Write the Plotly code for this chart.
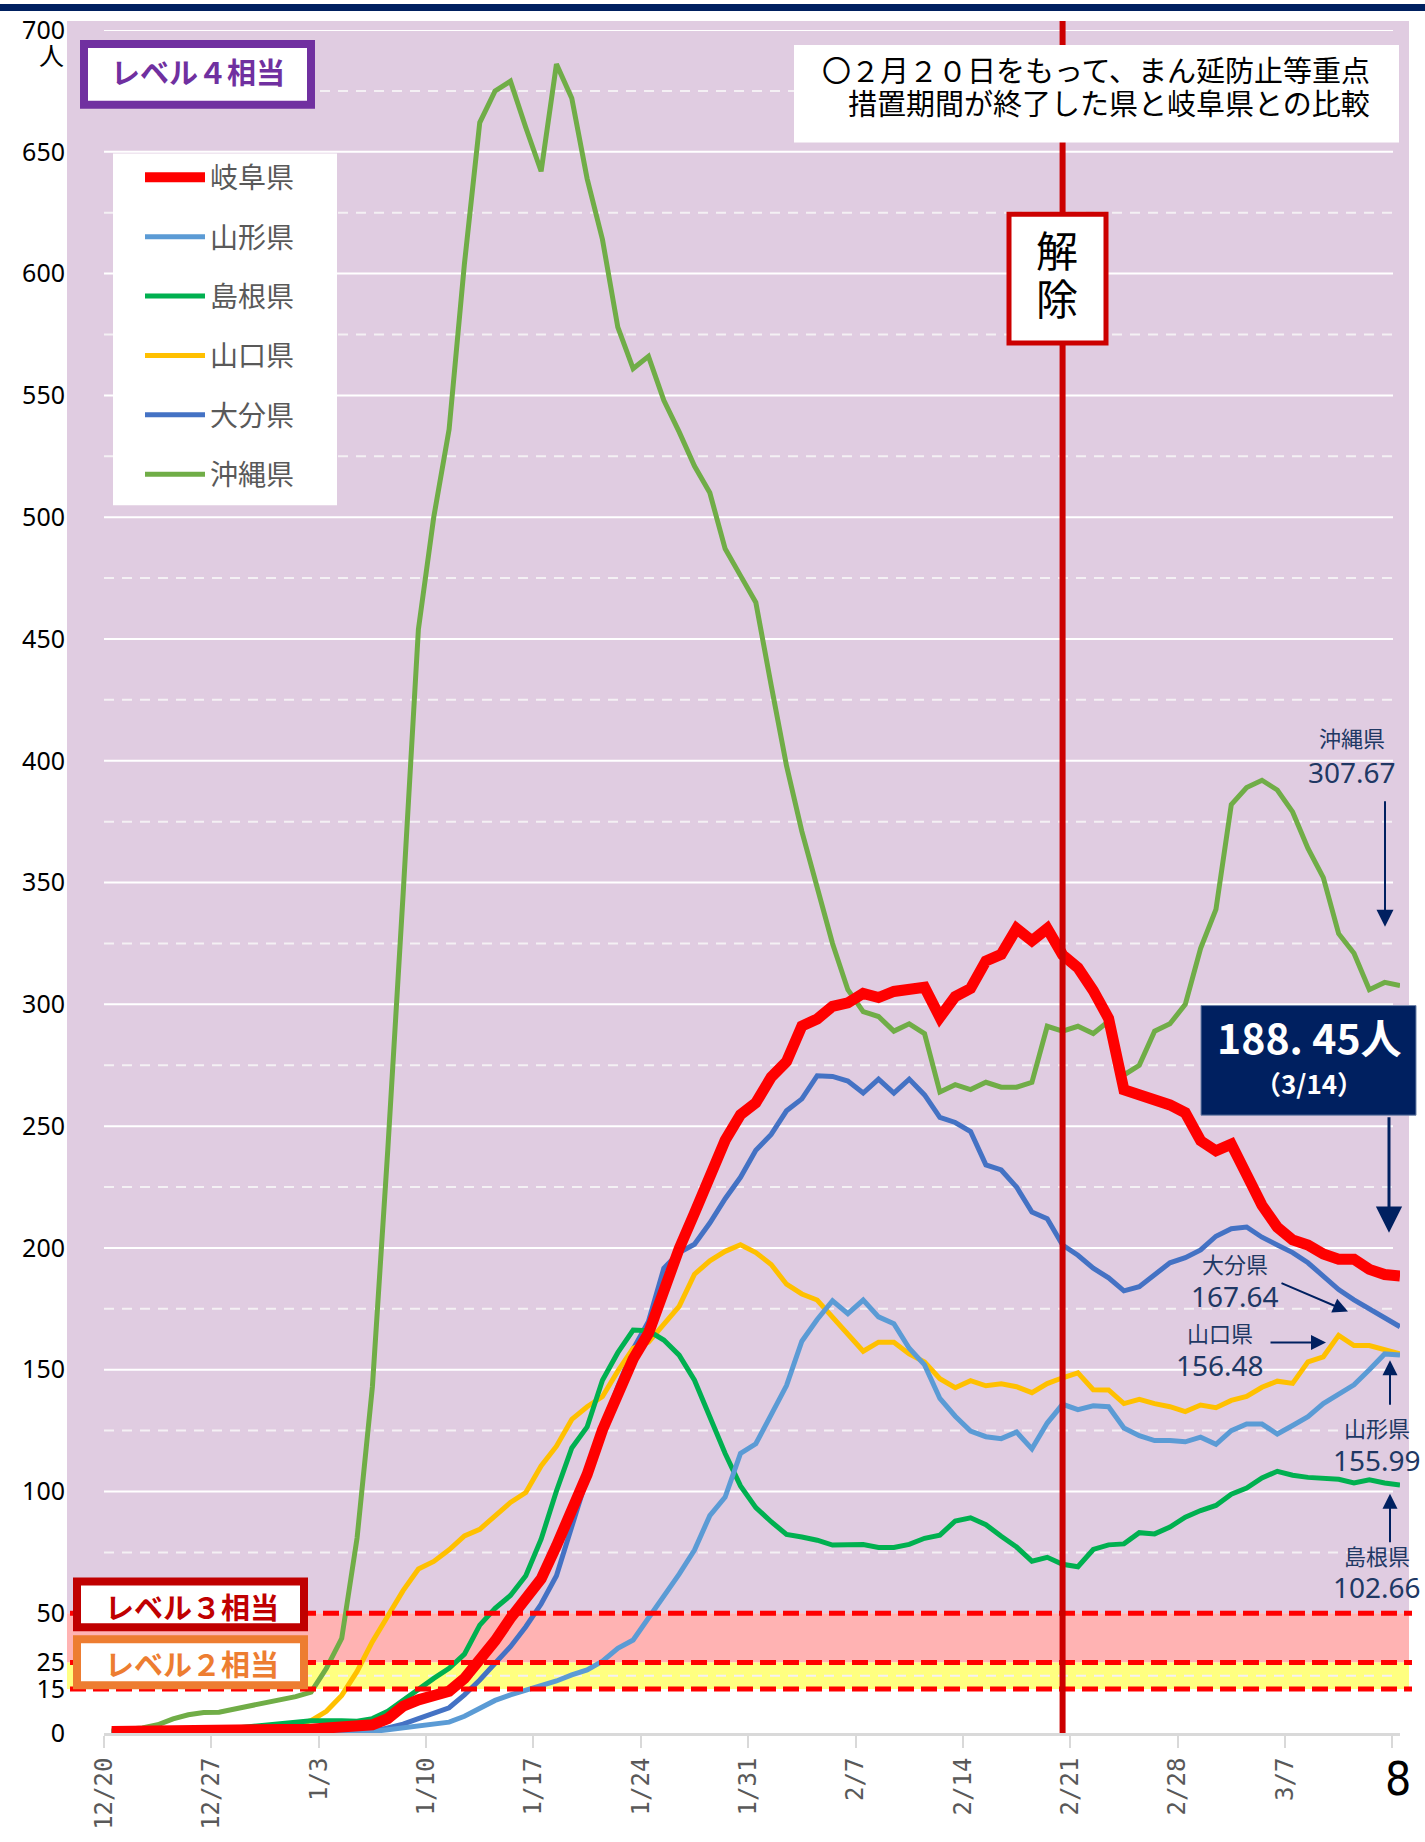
import numpy as np
import pandas as pd
import plotly.graph_objects as go

# ---------------- data ----------------
DATES = pd.date_range("2021-12-20", "2022-03-14", freq="D")

GIFU = [0.5,0.5,0.5,0.6,0.6,0.6,0.7,0.7,0.8,0.8,
        0.9,1.0,1.1,1.3,1.7,2.0,2.3,2.8,4.9,9.1,
        11.3,12.4,14.2,19.0,26.2,36.0,47.5,56.6,64.1,77.7,
        91.4,107.0,125.3,140.6,154.4,164.9,182.7,199.7,214.3,229.6,
        244.2,254.7,259.6,270.1,276.5,291.1,294.0,299.2,300.6,304.5,
        302.8,305.3,305.7,307.0,294.7,303.2,306.5,317.8,320.5,331.1,
        326.1,331.1,320.3,315.0,305.6,294.2,264.9,262.8,261.4,258.7,
        255.5,244.0,239.9,242.6,230.1,217.5,208.5,203.3,201.2,197.5,
        195.4,195.4,191.2,189.1,188.45]
YAMAGATA = [0.2,0.2,0.2,0.2,0.2,0.2,0.2,0.2,0.2,0.2,
            0.2,0.3,0.3,0.3,0.3,0.3,0.3,0.5,1.1,1.7,
            2.3,2.8,3.7,5.7,8.6,11.1,13.0,14.6,16.2,18.0,
            20.3,22.2,25.7,32.2,36.4,47.4,57.3,66.1,76.0,90.1,
            97.7,115.6,119.6,131.4,143.5,161.7,170.6,178.3,173.0,178.6,
            171.7,168.9,158.8,152.0,138.2,130.9,124.8,122.5,121.7,124.4,
            117.5,128.1,135.8,133.6,135.2,134.8,126.1,122.9,120.9,120.9,
            120.4,122.3,119.4,125.0,127.7,127.7,123.6,127.1,130.7,136.1,
            139.7,143.8,150.0,156.5,155.99]
SHIMANE = [0.5,0.5,0.5,0.5,0.5,0.5,0.5,1.1,1.7,2.3,
           2.8,3.3,3.7,4.2,4.3,4.2,4.0,4.9,7.4,11.3,
           15.0,19.0,22.8,29.2,44.0,52.0,57.3,65.4,80.4,100.2,
           117.9,126.5,145.7,157.0,166.3,166.0,162.2,156.0,145.7,130.1,
           115.6,102.3,93.4,87.6,82.4,81.3,80.0,78.0,77.9,78.2,
           77.0,77.0,78.3,80.8,82.1,87.9,89.2,86.4,81.6,77.2,
           71.4,73.0,70.1,69.1,76.2,78.1,78.5,83.1,82.6,85.4,
           89.5,92.2,94.3,98.9,101.4,105.6,108.3,106.7,105.8,105.6,
           105.0,103.5,104.8,103.5,102.66]
YAMAGUCHI = [0.5,0.5,0.6,0.6,0.7,0.8,0.9,1.1,1.5,1.6,
             1.7,2.2,2.8,4.2,7.4,12.8,21.6,35.6,49.1,59.3,
             68.2,71.3,76.1,81.8,84.5,90.3,95.5,99.6,110.5,118.6,
             129.6,134.8,139.0,149.4,158.8,161.3,168.5,176.0,189.2,194.7,
             198.6,201.3,198.1,193.2,185.1,181.1,178.6,171.7,165.2,157.6,
             161.3,161.3,156.5,153.2,146.3,142.6,145.5,143.4,144.2,143.0,
             140.6,144.3,146.7,148.7,141.8,141.7,136.1,137.8,136.1,134.8,
             132.8,135.5,134.4,137.4,139.0,142.8,145.3,144.4,153.2,155.3,
             164.1,159.9,159.9,158.4,156.48]
OITA = [0.1,0.1,0.1,0.1,0.1,0.1,0.1,0.1,0.1,0.1,
        0.1,0.1,0.1,0.1,0.2,0.2,0.3,0.5,1.7,3.0,
        4.9,6.7,8.6,13.0,18.4,24.7,33.0,43.2,53.8,65.4,
        85.9,106.0,126.0,143.0,158.5,169.8,191.6,198.1,201.5,210.2,
        220.2,229.0,240.1,246.6,256.3,261.2,270.7,270.4,268.5,263.6,
        269.3,263.6,269.3,262.8,253.6,251.5,247.8,234.1,232.0,225.0,
        214.7,212.0,201.2,197.0,191.7,187.7,182.4,184.1,188.7,193.9,
        196.0,199.2,204.8,207.9,208.6,204.4,201.2,198.1,193.9,188.3,
        182.9,178.7,175.2,171.4,167.64]
OKINAWA = [0.9,1.1,1.7,2.8,4.8,6.2,7.0,7.1,8.1,9.3,
           10.4,11.1,12.4,13.9,22.8,37.3,80.9,143.0,240.0,345.0,
           454.0,500.0,536.0,604.0,662.0,675.0,679.0,660.0,642.0,686.0,
           672.0,639.0,614.0,578.0,561.0,566.0,548.0,535.0,521.0,510.0,
           487.0,476.0,465.0,431.0,398.0,371.0,347.0,325.0,306.0,297.0,
           295.0,289.0,292.0,288.0,264.0,267.0,265.0,268.0,266.0,266.0,
           268.0,291.0,289.0,291.0,288.0,293.0,271.0,275.0,289.0,292.0,
           300.0,323.0,339.0,382.0,389.0,392.0,388.0,379.0,364.0,352.0,
           329.0,321.0,306.0,309.0,307.67]

SERIES = [  # name, values, colour, width, legend rank
    ("沖縄県", OKINAWA, "#70AD47", 5, 6),
    ("大分県", OITA, "#4472C4", 5, 5),
    ("山口県", YAMAGUCHI, "#FFC000", 5, 4),
    ("島根県", SHIMANE, "#00B050", 5, 3),
    ("山形県", YAMAGATA, "#5B9BD5", 5, 2),
    ("岐阜県", GIFU, "#FF0000", 11, 1),
]

Y_TICKS = [0, 15, 25, 50] + list(range(100, 701, 50))
Y_SOLID_GRID = list(range(100, 701, 50))
Y_DASH_GRID = [20] + list(range(75, 676, 50))
LEVEL_LINES = [50, 25, 15]
X_TICK_DATES = pd.date_range("2021-12-20", "2022-03-14", freq="7D")
X_TICK_TEXT = ["12/20", "12/27", "1/3", "1/10", "1/17", "1/24", "1/31",
               "2/7", "2/14", "2/21", "2/28", "3/7", ""]
END_LABELS = [  # text, value
    ("沖縄県", "307.67"), ("大分県", "167.64"), ("山口県", "156.48"),
    ("山形県", "155.99"), ("島根県", "102.66")]
GIFU_LAST = "188. 45人"
LAST_DATE = "（3/14）"
RELEASE_DATE = pd.Timestamp("2022-02-20 12:00")

# broken (piecewise) value axis as in the original chart
V_BREAKS = [0, 15, 25, 50, 700]
D_BREAKS = [0, 18.1, 29, 49.2, 700]


def yscale(v):
    return np.interp(v, V_BREAKS, D_BREAKS)


# ---------------- layout helpers (pixel -> paper) ----------------
W, H = 1425, 1842
L, R, T, B = 104, 1400, 26, 1735


def px(x):
    return (x - L) / (R - L)


def py(y):
    return (B - y) / (B - T)


CJK = "Noto Sans CJK JP"
NAVY = "#002060"

fig = go.Figure()
xpos = DATES + pd.Timedelta(hours=12)
for name, vals, col, wid, rank in SERIES:
    fig.add_trace(go.Scatter(
        x=xpos, y=yscale(np.array(vals)), mode="lines", name=name,
        line=dict(color=col, width=wid), legendrank=rank, legendgroup=name,
        hoverinfo="skip"))

shapes = []
# top navy bar
shapes.append(dict(type="rect", xref="paper", yref="paper", x0=px(0), x1=px(W),
                   y0=py(0), y1=py(7), fillcolor="#002060", line_width=0, layer="below"))
# background bands
shapes.append(dict(type="rect", xref="paper", yref="paper", x0=px(67), x1=px(1409),
                   y0=yscale(50) / 700, y1=py(17), fillcolor="#E0CCE1", line_width=0, layer="below"))
shapes.append(dict(type="rect", xref="paper", yref="paper", x0=px(67), x1=px(1409),
                   y0=yscale(25) / 700, y1=yscale(50) / 700, fillcolor="#FFB3B3", line_width=0, layer="below"))
shapes.append(dict(type="rect", xref="paper", yref="paper", x0=px(67), x1=px(1409),
                   y0=yscale(15) / 700, y1=yscale(25) / 700, fillcolor="#FFFF80", line_width=0, layer="below"))
# grid lines
for v in Y_SOLID_GRID:
    shapes.append(dict(type="line", xref="paper", yref="y", x0=0, x1=px(1393),
                       y0=yscale(v), y1=yscale(v), line=dict(color="white", width=2), layer="below"))
for v in Y_DASH_GRID:
    shapes.append(dict(type="line", xref="paper", yref="y", x0=0, x1=px(1393),
                       y0=yscale(v), y1=yscale(v), line=dict(color="#F4F0F4", width=2, dash="10px,8px"),
                       layer="below"))
# level threshold lines
for v in LEVEL_LINES:
    shapes.append(dict(type="line", xref="paper", yref="paper", x0=px(70), x1=px(1412),
                       y0=yscale(v) / 700, y1=yscale(v) / 700,
                       line=dict(color="#FF0000", width=5, dash="16px,7px"), layer="above"))
# release vertical line
shapes.append(dict(type="line", xref="x", yref="paper", x0=RELEASE_DATE, x1=RELEASE_DATE,
                   y0=0, y1=py(17), line=dict(color="#CC0000", width=6), layer="above"))
# boxes
shapes.append(dict(type="rect", xref="paper", yref="paper", x0=px(113), x1=px(337),
                   y0=py(503), y1=py(150), fillcolor="white", line_width=0, layer="above"))
shapes.append(dict(type="rect", xref="paper", yref="paper", x0=px(84), x1=px(311),
                   y0=py(101), y1=py(40), fillcolor="white", line=dict(color="#7030A0", width=8), layer="above"))
shapes.append(dict(type="rect", xref="paper", yref="paper", x0=px(794), x1=px(1399),
                   y0=py(139), y1=py(41), fillcolor="white", line_width=0, layer="above"))
shapes.append(dict(type="rect", xref="paper", yref="paper", x0=px(1009), x1=px(1106),
                   y0=py(340), y1=py(211), fillcolor="white", line=dict(color="#CC0000", width=5), layer="above"))
shapes.append(dict(type="rect", xref="paper", yref="paper", x0=px(1201), x1=px(1416),
                   y0=py(1115), y1=py(1005), fillcolor=NAVY, line=dict(color="#6F83A8", width=1), layer="above"))
shapes.append(dict(type="rect", xref="paper", yref="paper", x0=px(77), x1=px(304),
                   y0=py(1629), y1=py(1583), fillcolor="white", line=dict(color="#C00000", width=8), layer="above"))
shapes.append(dict(type="rect", xref="paper", yref="paper", x0=px(77), x1=px(304),
                   y0=py(1687), y1=py(1641), fillcolor="white", line=dict(color="#ED7D31", width=8), layer="above"))

ann = []


def text(x, y, s, size, color="black", family=CJK, weight="normal", xanchor="center"):
    ann.append(dict(x=px(x), y=py(y), xref="paper", yref="paper", text=s, showarrow=False,
                    xanchor=xanchor, yanchor="middle",
                    font=dict(size=size, color=color, family=family, weight=weight)))


def arrow(x0, y0, x1, y1, width=2, size=1.6):
    ann.append(dict(x=px(x1), y=py(y1), xref="paper", yref="paper", text="",
                    showarrow=True, ax=x0 - x1, ay=y0 - y1, axref="pixel", ayref="pixel",
                    arrowhead=2, arrowsize=size, arrowwidth=width, arrowcolor=NAVY, standoff=0))


text(198, 67, "レベル４相当", 29, "#7030A0", weight="bold")
text(1372, 65, "〇２月２０日をもって、まん延防止等重点", 29, xanchor="right")
text(1372, 98, "措置期間が終了した県と岐阜県との比較", 29, xanchor="right")
text(1057, 245, "解", 42)
text(1057, 293, "除", 42)
text(192, 1608, "レベル３相当", 29, "#C00000", weight="bold")
text(192, 1665, "レベル２相当", 29, "#ED7D31", weight="bold")
text(51, 50, "人", 25)
text(1398, 1781, "8", 46, family="DejaVu Sans Condensed")
text(1309, 1036, GIFU_LAST, 41, "white", weight="bold")
text(1309, 1082, LAST_DATE, 26, "white", weight="bold")

label_pos = {"沖縄県": (1352, 735, 771), "大分県": (1235, 1263, 1296), "山口県": (1220, 1333, 1366),
             "山形県": (1377, 1428, 1461), "島根県": (1377, 1556, 1588)}
for nm, val in END_LABELS:
    x, y1, y2 = label_pos[nm]
    text(x, y1, nm, 22, "#203864")
    text(x, y2, val, 28, "#203864", family="Noto Sans")

arrow(1385, 799, 1385, 926, 2, 1.7)
arrow(1389, 1116, 1389, 1233, 3, 1.75)
arrow(1280, 1283, 1348, 1312, 2, 1.5)
arrow(1269, 1343, 1326, 1343, 2, 1.5)
arrow(1390, 1407, 1390, 1361, 2, 1.5)
arrow(1390, 1545, 1390, 1495, 2, 1.5)

fig.update_layout(
    width=W, height=H,
    margin=dict(l=L, r=W - R, t=T, b=H - B, pad=0),
    paper_bgcolor="white", plot_bgcolor="white",
    shapes=shapes, annotations=ann,
    showlegend=True,
    legend=dict(x=px(140), y=py(149), xanchor="left", yanchor="top",
                bgcolor="rgba(0,0,0,0)", borderwidth=0, tracegroupgap=20, itemwidth=60,
                font=dict(family=CJK, size=28, color="#595959")),
    xaxis=dict(type="date", range=[pd.Timestamp("2021-12-20"), pd.Timestamp("2022-03-14 12:00")],
               tickvals=X_TICK_DATES, ticktext=X_TICK_TEXT, tickangle=-90,
               tickfont=dict(family="DejaVu Sans Mono", size=24, color="#595959"),
               showgrid=False, showline=True, linecolor="#D9D9D9", linewidth=3,
               ticks="outside", ticklen=12, tickwidth=2, tickcolor="#D9D9D9", zeroline=False),
    yaxis=dict(range=[0, 700], tickvals=[float(yscale(v)) for v in Y_TICKS],
               ticktext=[str(v) for v in Y_TICKS], showgrid=False, zeroline=False,
               showline=False, ticks="outside", ticklen=33, tickcolor="rgba(0,0,0,0)",
               tickfont=dict(family="Noto Sans", size=25, color="black")),
)

fig.write_html("out.html", config={"displayModeBar": False},
               post_script="document.body.style.margin='0px';")
